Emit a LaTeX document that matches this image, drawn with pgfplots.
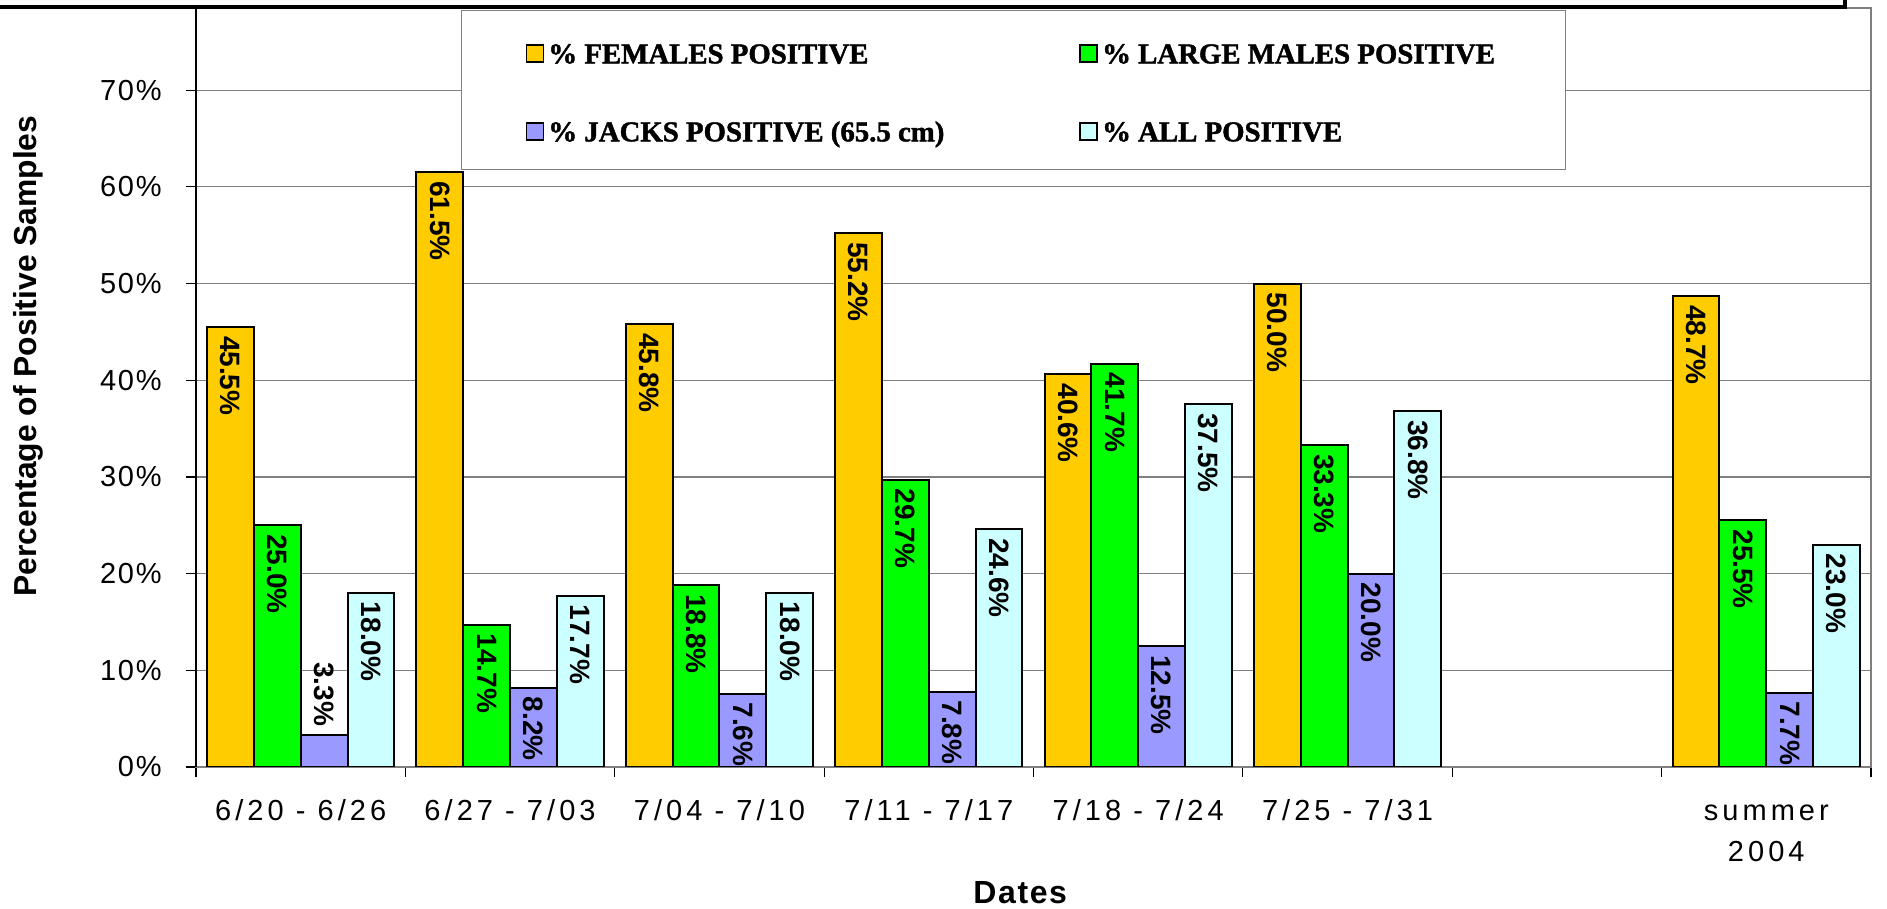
\documentclass[border=0pt]{standalone}
\usepackage{fontspec}
\setmainfont{Liberation Sans}
\newfontfamily\tickfont{Liberation Sans}[LetterSpace=6]
\newfontfamily\xtickfont{Liberation Sans}[LetterSpace=14]
\newfontfamily\datefont{Liberation Sans}[LetterSpace=5]
\newfontfamily\legfont{Liberation Serif}[BoldFeatures={FakeBold=1.5}]
\usepackage{pgfplots}
\pgfplotsset{compat=1.18}
\usepackage{pgfplotstable}
\definecolor{cF}{HTML}{FFCC00}
\definecolor{cL}{HTML}{00FF00}
\definecolor{cJ}{HTML}{9999FF}
\definecolor{cA}{HTML}{CCFFFF}
\definecolor{gridc}{HTML}{808080}
\pgfplotstableread{
x F L J A
0 45.5 25.0 3.3 18.0
1 61.5 14.7 8.2 17.7
2 45.8 18.8 7.6 18.0
3 55.2 29.7 7.8 24.6
4 40.6 41.7 12.5 37.5
5 50.0 33.3 20.0 36.8
7 48.7 25.5 7.7 23.0
}\datatab
\begin{document}
\begin{tikzpicture}
\path[use as bounding box] (-98pt,-71pt) rectangle (845.5pt,383.5pt);
\begin{axis}[
  at={(0,0)}, anchor=south west,
  scale only axis, width=837.5pt, height=379.5pt,
  xmin=-0.5, xmax=7.5, ymin=0, ymax=78.5,
  ybar=0pt, bar width=0.2237,
  axis line style={draw=gridc, line width=0.9pt},
  xtick={-0.5,0.5,1.5,2.5,3.5,4.5,5.5,6.5,7.5},
  x tick label as interval,
  xticklabels={\strut 6/20 - 6/26, \strut 6/27 - 7/03, \strut 7/04 - 7/10, \strut 7/11 - 7/17, \strut 7/18 - 7/24, \strut 7/25 - 7/31, {}, {\strut summer\\2004}},
  ytick={0,10,20,30,40,50,60,70},
  yticklabels={0\%,10\%,20\%,30\%,40\%,50\%,60\%,70\%},
  xtick pos=left, ytick pos=left,
  tick align=outside, major tick length=5pt,
  tick style={black, line width=0.6pt},
  ymajorgrids, major grid style={gridc, line width=0.6pt},
  xticklabel style={font=\xtickfont\fontsize{14.5}{20.5}\selectfont, align=center, anchor=north, inner sep=0pt, yshift=-7.2pt},
  yticklabel style={font=\tickfont\fontsize{14.5}{17}\selectfont, anchor=east, inner sep=0pt, xshift=-12pt},
  xlabel={Dates},
  xlabel style={font=\datefont\bfseries\fontsize{16}{18}\selectfont, at={(axis description cs:0.4921,-0.1805)}, anchor=base},
  ylabel={Percentage of Positive Samples},
  ylabel style={font=\bfseries\fontsize{15.9}{18}\selectfont, at={(axis description cs:-0.0955,0.5415)}, anchor=base, rotate=0},
  nodes near coords={\pgfmathprintnumber[fixed,fixed zerofill,precision=1,assume math mode=true]{\pgfplotspointmeta}\%},
  visualization depends on={rawy \as \rawy},
  every node near coord/.append style={rotate=-90, anchor=west, font=\bfseries\fontsize{14}{16}\selectfont, inner xsep=4pt, inner ysep=0pt, text=black},
  every node near coord/.append code={\ifdim\rawy pt<4pt\relax\pgfkeysalso{/tikz/anchor=east}\fi},
  legend columns=2,
  legend style={at={(rel axis cs:0.1582,0.9974)}, anchor=north west, draw=gridc, line width=0.6pt, fill=white,
    inner xsep=32pt, inner ysep=10.4pt, row sep=23.5pt,
    font=\legfont\bfseries\fontsize{14.4}{16}\selectfont, cells={anchor=base west}},
  legend image code/.code={\draw[#1,draw=black,line width=0.9pt] (0pt,0.5pt) rectangle (8.5pt,9pt);},
]
\addplot[fill=cF, draw=black, line width=1pt] table[x=x,y=F]{\datatab};
\addlegendentry{\rule{0pt}{14pt}\makebox[263.5pt][l]{\% FEMALES POSITIVE}}
\addplot[fill=cL, draw=black, line width=1pt] table[x=x,y=L]{\datatab};
\addlegendentry{\rule{0pt}{14pt}\makebox[197.5pt][l]{\% LARGE MALES POSITIVE}}
\addplot[fill=cJ, draw=black, line width=1pt] table[x=x,y=J]{\datatab};
\addlegendentry{\makebox[263.5pt][l]{\% JACKS POSITIVE (65.5 cm)}}
\addplot[fill=cA, draw=black, line width=1pt] table[x=x,y=A]{\datatab};
\addlegendentry{\makebox[197.5pt][l]{\% ALL POSITIVE}}
\end{axis}
\draw[black, line width=0.9pt] (0,0) -- (0,380pt);
\draw[black, line width=1.6pt] (-98pt,380pt) -- (824.5pt,380pt) -- (824.5pt,384pt);
\end{tikzpicture}
\end{document}
